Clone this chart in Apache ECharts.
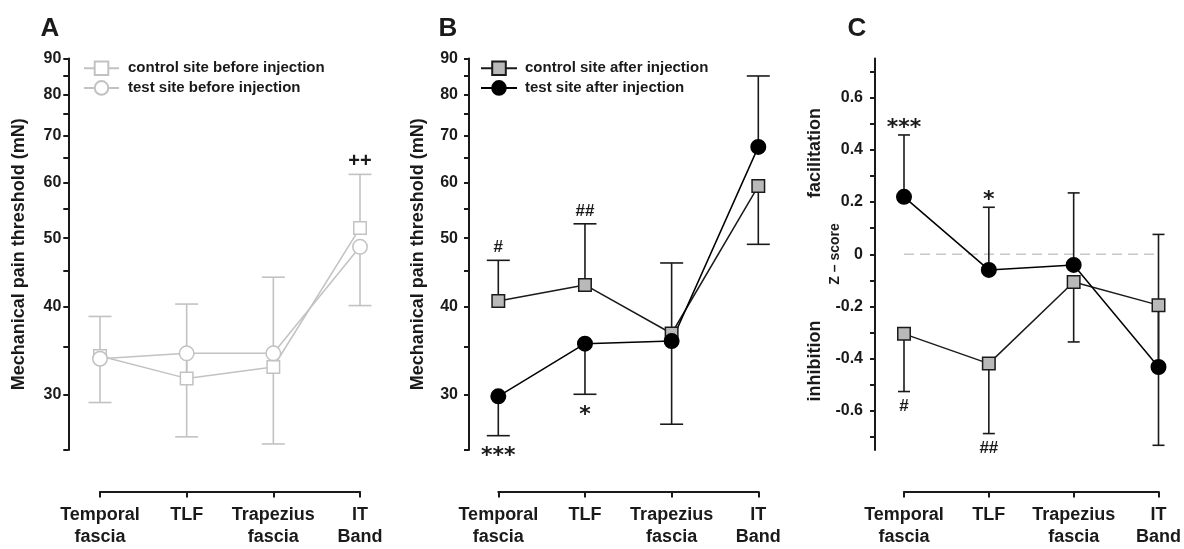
<!DOCTYPE html>
<html>
<head>
<meta charset="utf-8">
<script src="https://cdn.jsdelivr.net/npm/echarts@6/dist/echarts.min.js"></script>
<style>
html,body{margin:0;padding:0;background:#fff;}
#chart{width:1184px;height:549px;}
</style>
</head>
<body>
<div id="chart"></div>
<script>
// ---- data ----
const categories = ['Temporal\nfascia', 'TLF', 'Trapezius\nfascia', 'IT\nBand'];

// Panel A: before injection (mN)
const aCtrlBefore    = [34.0, 31.6, 32.8, 51.7];
const aCtrlBeforeErr = [38.7, 40.3, 44.0, 61.6];
const aTestBefore    = [33.7, 34.3, 34.3, 48.6];
const aTestBeforeErr = [29.2, 26.1, 25.5, 40.1];
const aSigCtrl = ['', '', '', '++'];

// Panel B: after injection (mN)
const bCtrlAfter    = [40.7, 42.9, 36.6, 59.3];
const bCtrlAfterErr = [46.5, 52.4, 46.1, 49.0];
const bTestAfter    = [29.8, 35.4, 35.7, 67.4];
const bTestAfterErr = [26.2, 30.0, 27.2, 85.0];
const bSigCtrl = ['#', '##', '', ''];
const bSigTest = ['***', '*', '', ''];

// Panel C: z-scores
const cCtrlZ    = [-0.305, -0.419, -0.106, -0.195];
const cCtrlZErr = [-0.526, -0.687, -0.336, -0.732];
const cTestZ    = [0.22, -0.06, -0.041, -0.432];
const cTestZErr = [0.457, 0.18, 0.235, 0.076];
const cSigTest = ['***', '*', '', ''];
const cSigCtrl = ['#', '##', '', ''];
const cZeroRef = 0;

// axis ticks
const thrTicks  = [25, 30, 35, 40, 45, 50, 55, 60, 65, 70, 75, 80, 85, 90];
const thrLabels = [30, 40, 50, 60, 70, 80, 90];
const zTicks  = [-0.7, -0.6, -0.5, -0.4, -0.3, -0.2, -0.1, 0, 0.1, 0.2, 0.3, 0.4, 0.5, 0.6, 0.7];
const zLabels = [-0.6, -0.4, -0.2, 0, 0.2, 0.4, 0.6];

// ---- styling ----
const FONT = 'Liberation Sans, Arial, sans-serif';
const STAR_FONT = 'DejaVu Sans, sans-serif';
const INK = '#1a1a1a';
const LIGHT = '#c2c2c2';
const SQ_FILL = '#b9b9b9';
const ZERO_LINE = '#c8c8c8';

const chart = echarts.init(document.getElementById('chart'), null, {renderer: 'canvas'});

const gridTop = 58.5, gridH = 391.5;
const grids = [
  {left: 100, width: 260, top: gridTop, height: gridH},
  {left: 498.3, width: 260, top: gridTop, height: gridH},
  {left: 904, width: 259.3, top: gridTop, height: gridH}
];

function xAxis(i) {
  return {
    type: 'category', gridIndex: i, data: categories, boundaryGap: false, offset: 41.5,
    axisLine: {show: true, onZero: false, lineStyle: {color: INK, width: 2}},
    axisTick: {show: true, length: 6, lineStyle: {color: INK, width: 2}},
    axisLabel: {color: INK, fontFamily: FONT, fontWeight: 'bold', fontSize: 18, lineHeight: 22, margin: 13, interval: 0},
    splitLine: {show: false}
  };
}
function thrAxis(i, off, margin, nameGap) {
  return {
    type: 'log', logBase: 10, gridIndex: i, min: 25, max: 90, offset: off,
    name: 'Mechanical pain threshold (mN)', nameLocation: 'middle', nameGap: nameGap,
    nameTextStyle: {color: INK, fontFamily: FONT, fontWeight: 'bold', fontSize: 18},
    axisLine: {show: true, onZero: false, lineStyle: {color: INK, width: 2}},
    axisTick: {show: true, length: 5, lineStyle: {color: INK, width: 2}, customValues: thrTicks},
    axisLabel: {color: INK, fontFamily: FONT, fontWeight: 'bold', fontSize: 16, margin: margin, customValues: thrLabels},
    splitLine: {show: false}, minorTick: {show: false}
  };
}

function lineSeries(name, gi, data, symbol, size, fill, stroke) {
  return {
    name: name, type: 'line', xAxisIndex: gi, yAxisIndex: gi, data: data,
    symbol: symbol, symbolSize: size, showSymbol: true, z: 3,
    lineStyle: {color: stroke, width: 1.5},
    itemStyle: {color: fill, borderColor: stroke, borderWidth: 1.5},
    emphasis: {disabled: true}, animation: false, clip: false
  };
}
let serial = 0;
function errSeries(gi, means, ends, color, cap) {
  return {
    type: 'custom', name: 'err_' + (serial++), xAxisIndex: gi, yAxisIndex: gi, z: 2,
    data: means.map((m, i) => [i, m, ends[i]]),
    encode: {x: 0, y: [1, 2]}, clip: false, silent: true, animation: false,
    renderItem: function (params, api) {
      const x = api.value(0);
      const p0 = api.coord([x, api.value(1)]);
      const p1 = api.coord([x, api.value(2)]);
      const st = {stroke: color, lineWidth: 1.6};
      return {type: 'group', children: [
        {type: 'line', shape: {x1: p0[0], y1: p0[1], x2: p1[0], y2: p1[1]}, style: st},
        {type: 'line', shape: {x1: p1[0] - cap, y1: p1[1], x2: p1[0] + cap, y2: p1[1]}, style: st}
      ]};
    }
  };
}
function sigSeries(gi, ends, texts, side, fontSize) {
  return {
    type: 'custom', name: 'sig_' + (serial++), xAxisIndex: gi, yAxisIndex: gi, z: 4,
    data: ends.map((e, i) => [i, e]), encode: {x: 0, y: 1}, clip: false, silent: true, animation: false,
    renderItem: function (params, api) {
      const t = texts[params.dataIndex];
      if (!t) return null;
      const p = api.coord([api.value(0), api.value(1)]);
      const isStar = t.indexOf('*') >= 0;
      let dy;
      if (side === 'above') dy = isStar ? -7 : -13;
      else dy = isStar ? 21 : 15;
      return {type: 'text', x: p[0], y: p[1] + dy, style: {
        text: t, fill: INK,
        font: isStar ? ('bold 22px ' + STAR_FONT) : ('bold ' + fontSize + 'px ' + FONT),
        align: 'center', verticalAlign: 'middle'
      }};
    }
  };
}
// dashed reference line across grid C at the zero z-score
const zeroLineSeries = {
  type: 'custom', name: 'zero_ref', xAxisIndex: 2, yAxisIndex: 2, z: 1,
  data: [[0, cZeroRef]], encode: {x: 0, y: 1}, clip: false, silent: true, animation: false,
  renderItem: function (params, api) {
    const p = api.coord([api.value(0), api.value(1)]);
    const cs = params.coordSys;
    return {type: 'line', shape: {x1: cs.x, y1: p[1], x2: cs.x + cs.width, y2: p[1]},
      style: {stroke: ZERO_LINE, lineWidth: 1.6, lineDash: [10, 6]}};
  }
};

const legendText = {color: INK, fontFamily: FONT, fontWeight: 'bold', fontSize: 15, padding: [0, 0, 0, 4]};

const option = {
  backgroundColor: '#fff',
  animation: false,
  grid: grids,
  xAxis: [xAxis(0), xAxis(1), xAxis(2)],
  yAxis: [
    thrAxis(0, 31.7, 7, 40),
    thrAxis(1, 29.3, 11, 42),
    {
      type: 'value', gridIndex: 2, min: -0.75, max: 0.75, offset: 29,
      axisLine: {show: true, onZero: false, lineStyle: {color: INK, width: 2}},
      axisTick: {show: true, length: 5, lineStyle: {color: INK, width: 2}, customValues: zTicks},
      axisLabel: {color: INK, fontFamily: FONT, fontWeight: 'bold', fontSize: 16, margin: 12, customValues: zLabels,
        formatter: v => String(Math.round(v * 10) / 10)},
      splitLine: {show: false}
    }
  ],
  legend: [
    {data: ['control site before injection', 'test site before injection'], orient: 'vertical',
     left: 78, top: 55.5, itemWidth: 35, itemHeight: 17, itemGap: 4, selectedMode: false, textStyle: legendText},
    {data: ['control site after injection', 'test site after injection'], orient: 'vertical',
     left: 475, top: 55.5, itemWidth: 36, itemHeight: 17, itemGap: 4, selectedMode: false,
     textStyle: Object.assign({}, legendText, {padding: [0, 0, 0, 3]})}
  ],
  graphic: [
    {type: 'text', x: 50, y: 29, style: {text: 'A', font: 'bold 26px ' + FONT, fill: INK, align: 'center', verticalAlign: 'middle'}},
    {type: 'text', x: 448, y: 29, style: {text: 'B', font: 'bold 26px ' + FONT, fill: INK, align: 'center', verticalAlign: 'middle'}},
    {type: 'text', x: 857, y: 29, style: {text: 'C', font: 'bold 26px ' + FONT, fill: INK, align: 'center', verticalAlign: 'middle'}},
    {type: 'text', x: 815, y: 153, rotation: Math.PI / 2, style: {text: 'facilitation', font: 'bold 18px ' + FONT, fill: INK, align: 'center', verticalAlign: 'middle'}},
    {type: 'text', x: 815, y: 361, rotation: Math.PI / 2, style: {text: 'inhibition', font: 'bold 18px ' + FONT, fill: INK, align: 'center', verticalAlign: 'middle'}},
    {type: 'text', x: 835, y: 254, rotation: Math.PI / 2, style: {text: 'Z \u2013 score', font: 'bold 14px ' + FONT, fill: INK, align: 'center', verticalAlign: 'middle'}}
  ],
  series: [
    // Panel A
    errSeries(0, aCtrlBefore, aCtrlBeforeErr, LIGHT, 11.5),
    errSeries(0, aTestBefore, aTestBeforeErr, LIGHT, 11.5),
    lineSeries('control site before injection', 0, aCtrlBefore, 'rect', 12.5, '#fff', LIGHT),
    lineSeries('test site before injection', 0, aTestBefore, 'circle', 14.5, '#fff', LIGHT),
    sigSeries(0, aCtrlBeforeErr, aSigCtrl, 'above', 20),
    // Panel B
    errSeries(1, bCtrlAfter, bCtrlAfterErr, INK, 11.5),
    errSeries(1, bTestAfter, bTestAfterErr, INK, 11.5),
    lineSeries('control site after injection', 1, bCtrlAfter, 'rect', 12.5, SQ_FILL, INK),
    lineSeries('test site after injection', 1, bTestAfter, 'circle', 14.5, '#000', '#000'),
    sigSeries(1, bCtrlAfterErr, bSigCtrl, 'above', 17),
    sigSeries(1, bTestAfterErr, bSigTest, 'below', 17),
    // Panel C
    zeroLineSeries,
    errSeries(2, cCtrlZ, cCtrlZErr, INK, 6),
    errSeries(2, cTestZ, cTestZErr, INK, 6),
    lineSeries('control z-score', 2, cCtrlZ, 'rect', 12.5, SQ_FILL, INK),
    lineSeries('test z-score', 2, cTestZ, 'circle', 14.5, '#000', '#000'),
    sigSeries(2, cTestZErr, cSigTest, 'above', 17),
    sigSeries(2, cCtrlZErr, cSigCtrl, 'below', 17)
  ]
};
chart.setOption(option);
</script>
</body>
</html>
